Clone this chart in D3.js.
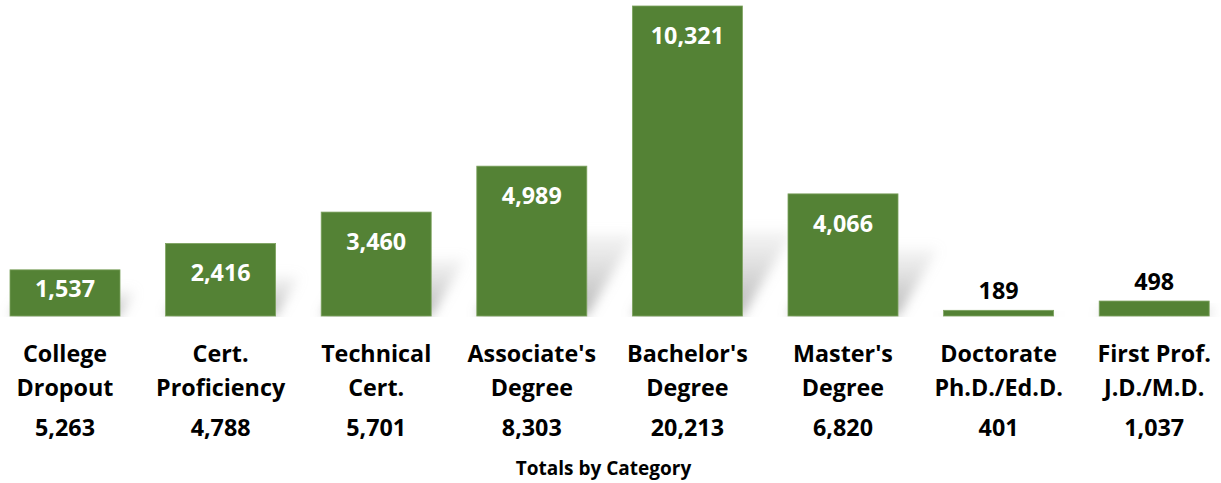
<!DOCTYPE html>
<html lang="en">
  <head>
    <meta charset="UTF-8" />
    <title>Totals by Category</title>
    <script src="https://d3js.org/d3.v7.min.js"></script>
    <style>
      body {
        margin: 0;
        background: #fff;
      }
      svg text {
        font-family: "Open Sans", "Lato", sans-serif;
        font-weight: bold;
      }
    </style>
  </head>
  <body>
    <svg width="1221" height="483"></svg>
    <script>
      const categories = [
        ["College", "Dropout"],
        ["Cert.", "Proficiency"],
        ["Technical", "Cert."],
        ["Associate's", "Degree"],
        ["Bachelor's", "Degree"],
        ["Master's", "Degree"],
        ["Doctorate", "Ph.D./Ed.D."],
        ["First Prof.", "J.D./M.D."],
      ];
      const values = [1537, 2416, 3460, 4989, 10321, 4066, 189, 498];
      const totals = [5263, 4788, 5701, 8303, 20213, 6820, 401, 1037];
      const axisTitle = "Totals by Category";

      const svg = d3.select("svg");
      const BASE = 316;
      const TOP = 6;
      const FS = 23.3;
      const fmt = d3.format(",");

      const X = d3
        .scaleBand()
        .domain(d3.range(values.length))
        .range([-12.8, 1232])
        .paddingInner(0.293)
        .paddingOuter(0.1465);

      const Y = d3.scaleLinear().domain([0, 10321]).range([BASE, TOP]);

      const defs = svg.append("defs");
      const blur = defs.append("filter").attr("id", "blur")
        .attr("x", "-50%").attr("y", "-50%").attr("width", "200%").attr("height", "200%");
      blur.append("feGaussianBlur").attr("stdDeviation", 6);

      const grad = defs.append("linearGradient").attr("id", "shade")
        .attr("x1", 0).attr("y1", 1).attr("x2", 0).attr("y2", 0);
      grad.append("stop").attr("offset", 0).attr("stop-color", "#999").attr("stop-opacity", 0.75);
      grad.append("stop").attr("offset", 1).attr("stop-color", "#bbb").attr("stop-opacity", 0.15);

      // perspective shadows behind the bars
      svg.append("g")
        .selectAll("path")
        .data(values)
        .join("path")
        .attr("fill", "url(#shade)")
        .attr("filter", "url(#blur)")
        .attr("d", (d, i) => {
          const x0 = X(i), x1 = X(i) + X.bandwidth();
          const h = Math.min((BASE - Y(d)) * 0.55, 85);
          const dx = h * 0.6;
          return `M${x0},${BASE} L${x1},${BASE} L${x1 + dx},${BASE - h} L${x0 + dx},${BASE - h} Z`;
        });

      // clip shadows below baseline
      svg.append("rect")
        .attr("x", 0).attr("y", BASE + 1)
        .attr("width", 1221).attr("height", 30)
        .attr("fill", "#fff");

      svg.append("g")
        .selectAll("rect")
        .data(values)
        .join("rect")
        .attr("x", (d, i) => X(i))
        .attr("y", (d) => Y(d))
        .attr("width", X.bandwidth())
        .attr("height", (d) => BASE - Y(d))
        .attr("fill", "#548235")
        .attr("stroke", "#7da25f")
        .attr("stroke-width", 0.8);

      // value labels
      const inside = (d) => BASE - Y(d) > 40;
      svg.append("g")
        .selectAll("text")
        .data(values)
        .join("text")
        .attr("x", (d, i) => X(i) + X.bandwidth() / 2)
        .attr("y", (d) =>
          inside(d) ? Math.min(Y(d) + 29, (Y(d) + BASE) / 2 - 5) : Y(d) - 20
        )
        .attr("text-anchor", "middle")
        .attr("dominant-baseline", "central")
        .attr("font-size", FS)
        .attr("fill", (d) => (inside(d) ? "#fff" : "#000"))
        .text((d) => fmt(d));

      // category labels
      const cat = svg.append("g")
        .selectAll("text")
        .data(categories)
        .join("text")
        .attr("text-anchor", "middle")
        .attr("font-size", FS)
        .attr("fill", "#000");
      cat.selectAll("tspan")
        .data((d, i) => d.map((s, j) => ({ s, j, i })))
        .join("tspan")
        .attr("x", (d) => X(d.i) + X.bandwidth() / 2)
        .attr("y", (d) => 362 + d.j * 34)
        .text((d) => d.s);

      // totals
      svg.append("g")
        .selectAll("text")
        .data(totals)
        .join("text")
        .attr("x", (d, i) => X(i) + X.bandwidth() / 2)
        .attr("y", 436)
        .attr("text-anchor", "middle")
        .attr("font-size", FS)
        .attr("fill", "#000")
        .text((d) => fmt(d));

      svg.append("text")
        .attr("x", 603.5)
        .attr("y", 475)
        .attr("text-anchor", "middle")
        .attr("font-size", 19)
        .attr("fill", "#000")
        .text(axisTitle);
    </script>
  </body>
</html>
